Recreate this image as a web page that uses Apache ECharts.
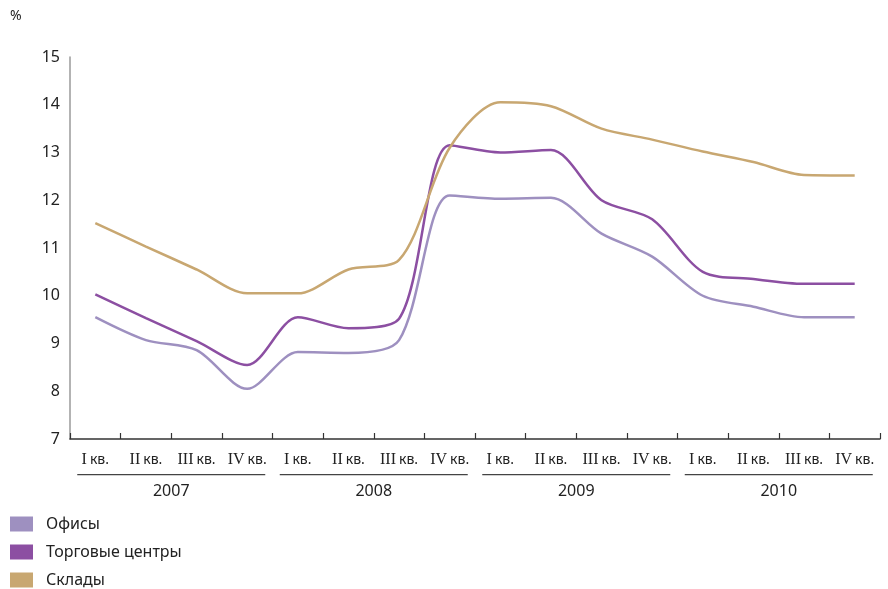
<!DOCTYPE html>
<html>
<head>
<meta charset="utf-8">
<script src="https://cdn.jsdelivr.net/npm/echarts@6/dist/echarts.min.js"></script>
<style>
html,body{margin:0;padding:0;background:#fff;}
#chart{width:888px;height:589px;}
</style>
</head>
<body>
<div id="chart"></div>
<script>
var years = ['2007', '2008', '2009', '2010'];
var quarters = ['I', 'II', 'III', 'IV'];
var yTicks = { min: 7, max: 15, interval: 1 };

var offices = [9.55, 9.07, 8.86, 8.05, 8.82, 8.8, 9.07, 12.1, 12.03, 12.05, 11.3, 10.82, 10.0, 9.77, 9.55, 9.55];
var malls   = [10.03, 9.53, 9.05, 8.55, 9.55, 9.32, 9.52, 13.15, 13.0, 13.05, 12.0, 11.6, 10.5, 10.35, 10.25, 10.25];
var storage = [11.52, 11.03, 10.55, 10.05, 10.05, 10.55, 10.75, 13.1, 14.05, 13.97, 13.5, 13.27, 13.02, 12.8, 12.53, 12.52];

var seriesNames = ['Офисы', 'Торговые центры', 'Склады'];
var colors = ['#9e90c0', '#8c4fa2', '#c8a771'];

var categories = [];
years.forEach(function (y) {
  quarters.forEach(function (q) { categories.push(y + '|' + q); });
});

var font = 'Noto Sans';
var chart = echarts.init(document.getElementById('chart'));

function mkSeries(name, data, color) {
  return {
    name: name, type: 'line', data: data, smooth: 0.3,
    symbol: 'none', xAxisIndex: 0, yAxisIndex: 0,
    lineStyle: { color: color, width: 2.5 },
    itemStyle: { color: color }
  };
}

chart.setOption({
  animation: false,
  textStyle: { fontFamily: font },
  title: {
    text: '%', left: 5, top: 4,
    textStyle: { fontFamily: font, fontSize: 14, fontWeight: 'normal', color: '#222' }
  },
  grid: { left: 70, right: 8, top: 57, bottom: 150 },
  legend: {
    orient: 'vertical', left: 10, top: 516, itemGap: 12, padding: 0,
    itemWidth: 23, itemHeight: 15, icon: 'rect',
    data: seriesNames,
    textStyle: { fontFamily: font, fontSize: 16, color: '#222', padding: [0, 0, 0, 8] }
  },
  xAxis: [
    {
      type: 'category', data: categories, boundaryGap: true,
      axisLine: { show: true, lineStyle: { color: '#333', width: 1.5 } },
      axisTick: { show: true, inside: true, length: 6, lineStyle: { color: '#333', width: 1.2 } },
      axisLabel: {
        interval: 0, margin: 13,
        formatter: function (v) {
          var q = v.split('|')[1];
          return '{r|' + q + '}{k|кв.}';
        },
        rich: {
          r: { fontFamily: 'Liberation Serif', fontSize: 16, color: '#222', padding: [0, 3, 0, 0] },
          k: { fontFamily: font, fontSize: 14, color: '#222' }
        }
      },
      splitLine: { show: false }
    },
    {
      type: 'category', data: years, boundaryGap: true, position: 'bottom',
      axisLine: { show: false }, axisTick: { show: false },
      axisLabel: {
        interval: 0, margin: 35,
        formatter: function (v) { return '{ln| }\n{y|' + v + '}'; },
        rich: {
          ln: { width: 188, height: 1.3, lineHeight: 1.3, fontSize: 1, backgroundColor: '#444' },
          y: { fontFamily: font, fontSize: 16, color: '#222', lineHeight: 32 }
        }
      },
      splitLine: { show: false }
    }
  ],
  yAxis: {
    type: 'value', min: yTicks.min, max: yTicks.max, interval: yTicks.interval,
    axisLine: { show: true, lineStyle: { color: '#9a9a9a', width: 1.5 } },
    axisTick: { show: false },
    splitLine: { show: false },
    axisLabel: { fontFamily: font, fontSize: 16, color: '#222', margin: 10 }
  },
  series: [
    mkSeries(seriesNames[0], offices, colors[0]),
    mkSeries(seriesNames[1], malls, colors[1]),
    mkSeries(seriesNames[2], storage, colors[2])
  ]
});
</script>
</body>
</html>
